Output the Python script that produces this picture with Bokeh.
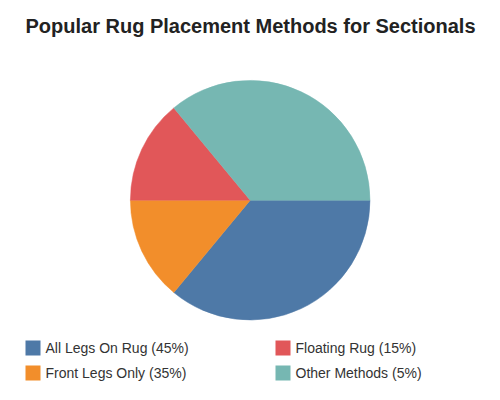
import numpy as np
from bokeh.plotting import figure
from bokeh.models import ColumnDataSource, Range1d
from bokeh.core.properties import value
from bokeh.embed import file_html
from bokeh.resources import INLINE

# ---- data ----
methods = ["All Legs On Rug", "Front Legs Only", "Floating Rug", "Other Methods"]
label_pct = [45, 35, 15, 5]          # percentages printed in the legend
slice_share = [36, 14, 14, 36]       # slice sizes as drawn in the picture
colors = ["#4e79a7", "#f28e2b", "#e15759", "#76b7b2"]
title_text = "Popular Rug Placement Methods for Sectionals"

W, H = 484, 384
p = figure(width=W, height=H, output_backend="svg", toolbar_location=None,
           x_range=Range1d(0, W), y_range=Range1d(0, H), min_border=0)
p.axis.visible = False
p.grid.visible = False
p.outline_line_color = None
p.background_fill_color = "white"

vals = np.array(slice_share, dtype=float)
frac = vals / vals.sum()
cum = np.concatenate([[0], np.cumsum(frac)]) * 2 * np.pi
src = ColumnDataSource(dict(
    start=-cum[:-1], end=-cum[1:], color=colors, name=methods))

cx, cy, r = 249.7, 184.3, 119.8
p.wedge(x=cx, y=cy, radius=r, start_angle="start", end_angle="end",
        direction="clock", fill_color="color", line_color="color",
        line_width=0.5, source=src)

# title
p.text(x=[250], y=[359], text=[title_text], text_align="center",
       text_baseline="alphabetic", text_font=value("Liberation Sans"),
       text_font_size="20px", text_font_style="bold", text_color="#222222")

# legend (2 columns, column-major)
col_x = [25, 275]
row_y = [36.5, 11.5]
lx, ly, ltxt = [], [], []
for i, (m, pct) in enumerate(zip(methods, label_pct)):
    c, rr = divmod(i, 2)
    lx.append(col_x[c])
    ly.append(row_y[rr])
    ltxt.append(f"{m} ({pct}%)")
lsrc = ColumnDataSource(dict(x=[v + 7.5 for v in lx], tx=[v + 20 for v in lx],
                             y=ly, text=ltxt, color=colors))
p.rect(x="x", y="y", width=15, height=15, fill_color="color",
       line_color=None, source=lsrc)
p.text(x="tx", y="y", text="text", text_align="left", text_baseline="middle",
       text_font=value("Liberation Sans"), text_font_size="14px",
       text_color="#333333", source=lsrc)

open("out.html", "w").write(file_html(p, INLINE))
